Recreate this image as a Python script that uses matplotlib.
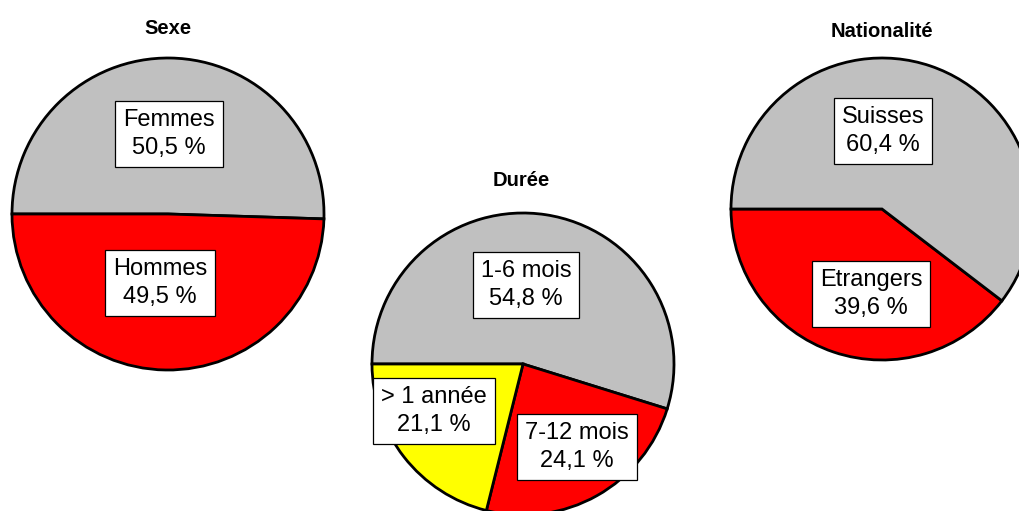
import matplotlib
matplotlib.use("Agg")
import matplotlib.pyplot as plt

plt.rcParams['font.family'] = ['Liberation Sans', 'DejaVu Sans']

# Data
sexe_labels = ["Femmes", "Hommes"]
sexe_values = [50.5, 49.5]
duree_labels = ["1-6 mois", "7-12 mois", "> 1 année"]
duree_values = [54.8, 24.1, 21.1]
nat_labels = ["Etrangers", "Suisses"]
nat_values = [39.6, 60.4]

GRAY = "#C0C0C0"
RED = "#FF0000"
YELLOW = "#FFFF00"

W, H = 1020, 511
fig = plt.figure(figsize=(W / 100, H / 100), dpi=100)
ax = fig.add_axes([0, 0, 1, 1])

def py(y):
    return H - y

wp = dict(edgecolor="black", linewidth=2.0)

def fmt(v):
    return f"{v:.1f}".replace(".", ",") + " %"

# Sexe pie
ax.pie(sexe_values, colors=[GRAY, RED], startangle=-1.8, counterclock=True,
       center=(168, py(214)), radius=156, wedgeprops=wp, frame=True)
# Durée pie
ax.pie(duree_values, colors=[GRAY, RED, YELLOW], startangle=180, counterclock=False,
       center=(523, py(364)), radius=151, wedgeprops=wp, frame=True)
# Nationalité pie
ax.pie(nat_values, colors=[RED, GRAY], startangle=180, counterclock=True,
       center=(882, py(209)), radius=151, wedgeprops=wp, frame=True)

ax.set_xlim(0, W)
ax.set_ylim(0, H)
ax.set_aspect("auto")
ax.axis("off")

box = dict(boxstyle="square,pad=0.33", facecolor="white", edgecolor="black", linewidth=0.9)

def label(x, y, name, v):
    ax.text(x, py(y), f"{name}\n{fmt(v)}", ha="center", va="center", fontsize=17,
            linespacing=1.35, bbox=box, zorder=5)

label(169, 134, sexe_labels[0], sexe_values[0])
label(160, 283, sexe_labels[1], sexe_values[1])
label(526, 285, duree_labels[0], duree_values[0])
label(577, 447, duree_labels[1], duree_values[1])
label(434, 411, duree_labels[2], duree_values[2])
label(871, 294, nat_labels[0], nat_values[0])
label(883, 131, nat_labels[1], nat_values[1])

tkw = dict(ha="center", va="center", fontsize=14.5, fontweight="bold")
ax.text(168, py(28), "Sexe", **tkw)
ax.text(521, py(180), "Durée", **tkw)
ax.text(882, py(31), "Nationalité", **tkw)

fig.savefig("out.png", dpi=100)
